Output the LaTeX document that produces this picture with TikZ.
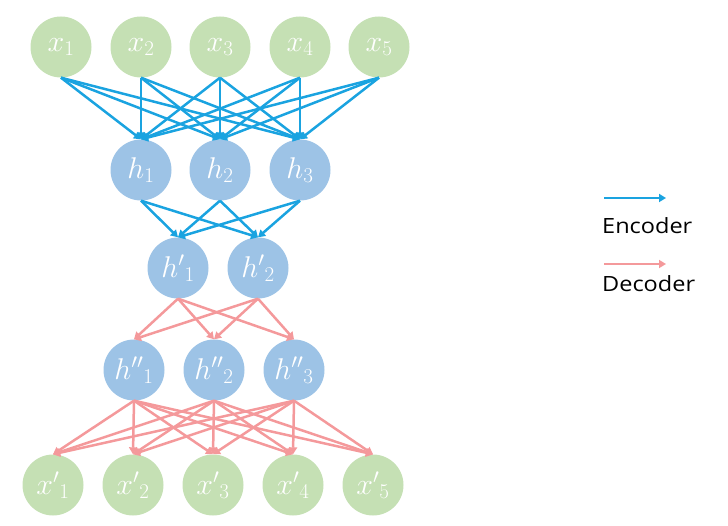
\RequirePackage{fix-cm}
\documentclass[tikz,border=0pt]{standalone}
\usepackage{fontspec}
\newfontfamily\legendfont[FakeStretch=1.12]{Open Sans}
\usetikzlibrary{arrows.meta}
\definecolor{nodegreen}{HTML}{C5E0B4}
\definecolor{nodeblue}{HTML}{9DC3E6}
\definecolor{encblue}{HTML}{1AA3E0}
\definecolor{decpink}{HTML}{F4999B}
\tikzset{
  neuron/.style={circle, minimum size=61pt, inner sep=0pt, text=white,
    font=\fontsize{30}{34}\selectfont},
  xnode/.style={neuron, fill=nodegreen},
  hnode/.style={neuron, fill=nodeblue},
  enc/.style={draw=encblue, line width=2.5pt, -{Triangle[length=7pt,width=8pt]}},
  dec/.style={draw=decpink, line width=2.5pt, -{Triangle[length=7pt,width=8pt]}},
  legendtext/.style={anchor=base west, inner sep=0pt, font=\legendfont\fontsize{21}{24}\selectfont, text=black}
}
\begin{document}
\begin{tikzpicture}[x=1pt,y=-1pt]
\useasboundingbox (0,0) rectangle (728,526);
% input layer
\foreach \i/\x in {1/61,2/141,3/220,4/300,5/379}
  \node[xnode] (x\i) at (\x,47) {$x_{\i}$};
% h layer
\foreach \i/\x in {1/141,2/220,3/300}
  \node[hnode] (h\i) at (\x,170) {$h_{\i}$};
% h' layer
\foreach \i/\x in {1/178,2/258}
  \node[hnode] (hp\i) at (\x,268) {${h'}_{\i}$};
% h'' layer
\foreach \i/\x in {1/134,2/214,3/294}
  \node[hnode] (hpp\i) at (\x,370) {${h''}_{\i}$};
% output layer
\foreach \i/\x in {1/53,2/133,3/213,4/293,5/373}
  \node[xnode] (xp\i) at (\x,485) {${x'}_{\i}$};
% encoder connections
\foreach \i in {1,...,5}
  \foreach \j in {1,2,3}
    \draw[enc] (x\i.south) -- (h\j.north);
\foreach \j in {1,2,3}
  \foreach \k in {1,2}
    \draw[enc] (h\j.south) -- (hp\k.north);
% decoder connections
\foreach \k in {1,2}
  \foreach \j in {1,2,3}
    \draw[dec] (hp\k.south) -- (hpp\j.north);
\foreach \j in {1,2,3}
  \foreach \i in {1,...,5}
    \draw[dec] (hpp\j.south) -- (xp\i.north);
% legend
\coordinate (encA) at (604,198);
\coordinate (encB) at (666,198);
\coordinate (decA) at (604,264);
\coordinate (decB) at (666,264);
\draw[enc] (encA) -- (encB);
\draw[dec] (decA) -- (decB);
\node[legendtext] (enclabel) at (602,234) {Encoder};
\node[legendtext] (declabel) at (602,292) {Decoder};
\end{tikzpicture}
\end{document}
